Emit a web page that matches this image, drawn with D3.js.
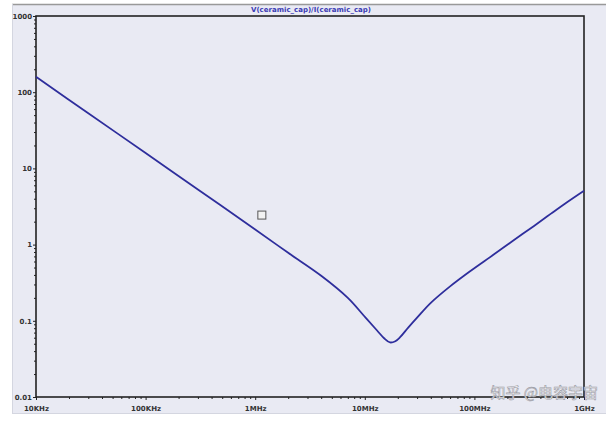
<!DOCTYPE html>
<html>
<head>
<meta charset="utf-8">
<script src="https://cdn.jsdelivr.net/npm/d3@7"></script>
<style>
  body { margin: 0; background: #fff; }
  .tick text { font-family: "DejaVu Sans", sans-serif; font-size: 7px; font-weight: bold; fill: #333; }
</style>
</head>
<body>
<div id="chart"></div>
<script>
// impedance |V/I| of the ceramic cap
var freqs = [1e4, 3e4, 1e5, 3e5, 1e6, 2e6, 4e6, 7e6, 1e7, 1.3e7, 1.5e7, 1.7e7, 1.9e7, 2.1e7, 2.5e7, 3e7, 4e7, 6e7, 9e7, 1.5e8, 2.2e8, 3.5e8, 5e8, 7e8, 1e9];
var imped = [159, 53, 15.9, 5.3, 1.58, 0.78, 0.39, 0.2, 0.113, 0.074, 0.059, 0.052, 0.054, 0.061, 0.082, 0.11, 0.172, 0.283, 0.44, 0.74, 1.1, 1.76, 2.55, 3.6, 5.1];
var xTicks = [1e4, 1e5, 1e6, 1e7, 1e8, 1e9];
var xTickLabels = ["10KHz", "100KHz", "1MHz", "10MHz", "100MHz", "1GHz"];
var yTicks = [0.01, 0.1, 1, 10, 100, 1000];
var yTickLabels = ["0.01", "0.1", "1", "10", "100", "1000"];
var cursorPt = [1.15e6, 2.44];
var title = "V(ceramic_cap)/I(ceramic_cap)";

var W = 611, H = 421;
var margin = {top: 16, right: 27, bottom: 24, left: 36};
var iw = W - margin.left - margin.right, ih = H - margin.top - margin.bottom;

var svg = d3.select("#chart").append("svg").attr("width", W).attr("height", H);

/*panel background*/
svg.append("rect").attr("x", 12).attr("y", 4).attr("width", 594).attr("height", 409)
   .attr("fill", "#e9eaf3");
svg.append("line").attr("x1", 12).attr("x2", 606).attr("y1", 4.5).attr("y2", 4.5)
   .attr("stroke", "#999").attr("stroke-width", 1.5);
svg.append("line").attr("x1", 12.5).attr("x2", 12.5).attr("y1", 4).attr("y2", 413)
   .attr("stroke", "#d4d6e0").attr("stroke-width", 1);
svg.append("line").attr("x1", 12).attr("x2", 606).attr("y1", 413.5).attr("y2", 413.5)
   .attr("stroke", "#d4d6e0").attr("stroke-width", 1);

svg.append("text").attr("x", 311).attr("y", 12)
   .attr("text-anchor", "middle")
   .style("font-family", "DejaVu Sans, sans-serif").style("font-size", "7px").style("font-weight", "bold")
   .style("fill", "#3a3ab4").text(title);

var g = svg.append("g").attr("transform", "translate(" + margin.left + "," + margin.top + ")");

var x = d3.scaleLog().domain([1e4, 1e9]).range([0, iw]);
var y = d3.scaleLog().domain([0.01, 1000]).range([ih, 0]);

/*minor ticks*/
var minorX = [], minorY = [];
for (var d = 1e4; d < 1e9; d *= 10) for (var k = 2; k < 10; k++) minorX.push(d * k);
for (var e = 0.01; e < 1000; e *= 10) for (var k2 = 2; k2 < 10; k2++) minorY.push(e * k2);

g.append("g").attr("transform", "translate(0," + ih + ")")
 .call(d3.axisBottom(x).tickValues(minorX).tickSize(2).tickFormat(""))
 .call(function(s){ s.select(".domain").remove(); s.selectAll("line").attr("stroke", "#222"); });
g.append("g")
 .call(d3.axisLeft(y).tickValues(minorY).tickSize(2).tickFormat(""))
 .call(function(s){ s.select(".domain").remove(); s.selectAll("line").attr("stroke", "#222"); });

/*major axes*/
g.append("g").attr("transform", "translate(0," + ih + ")")
 .call(d3.axisBottom(x).tickValues(xTicks).tickSize(3).tickPadding(6)
   .tickFormat(function(d, i){ return xTickLabels[i]; }))
 .call(function(s){ s.select(".domain").remove(); s.selectAll("line").attr("stroke", "#222"); });
g.append("g")
 .call(d3.axisLeft(y).tickValues(yTicks).tickSize(3).tickPadding(1)
   .tickFormat(function(d, i){ return yTickLabels[i]; }))
 .call(function(s){ s.select(".domain").remove(); s.selectAll("line").attr("stroke", "#222"); });

/*frame*/
g.append("rect").attr("width", iw).attr("height", ih)
 .attr("fill", "none").attr("stroke", "#222").attr("stroke-width", 1.6);

/*curve*/
var line = d3.line()
  .x(function(d, i){ return x(freqs[i]); })
  .y(function(d){ return y(d); })
  .curve(d3.curveCatmullRom.alpha(0.5));
g.append("path").datum(imped)
 .attr("d", line)
 .attr("fill", "none").attr("stroke", "#2e2e9c").attr("stroke-width", 1.8);

/*cursor marker*/
g.append("rect")
 .attr("x", x(cursorPt[0]) - 4).attr("y", y(cursorPt[1]) - 4)
 .attr("width", 8).attr("height", 8)
 .attr("fill", "#f2f2f2").attr("stroke", "#555").attr("stroke-width", 1);

/*watermark*/
svg.append("text").attr("x", 598).attr("y", 398).attr("text-anchor", "end")
   .style("font-family", "Noto Sans CJK SC, sans-serif").style("font-size", "15px")
   .style("fill", "#fff").style("stroke", "#9a9aa4").style("stroke-width", 0.6)
   .text("知乎 @电容宇宙");
</script>
</body>
</html>
